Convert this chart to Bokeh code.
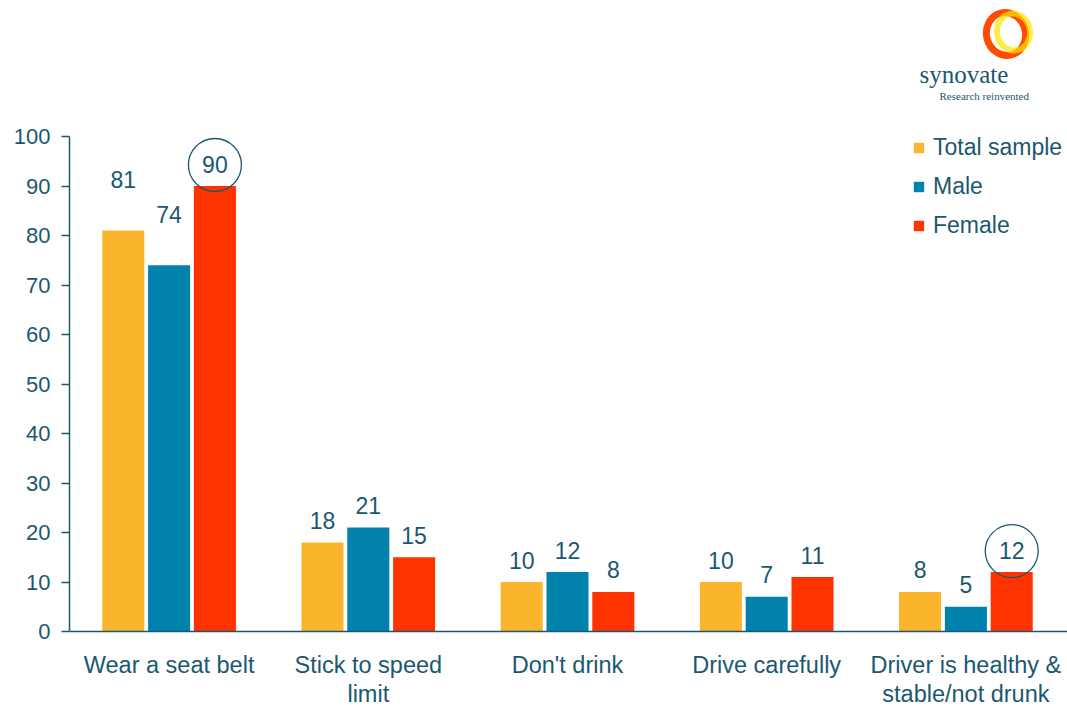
from bokeh.plotting import figure
from bokeh.models import Range1d, FixedTicker, Legend, LegendItem, ColumnDataSource
from bokeh.core.properties import value
from bokeh.transform import dodge
from bokeh.embed import file_html
from bokeh.resources import INLINE

# ---------------- data ----------------
categories = ["Wear a seat belt", "Stick to speed limit", "Don't drink",
              "Drive carefully", "Driver is healthy & stable/not drunk"]
tick_labels = ["Wear a seat belt", "Stick to speed\nlimit", "Don't drink",
               "Drive carefully", "Driver is healthy &\nstable/not drunk"]
series = ["Total sample", "Male", "Female"]
total_sample = [81, 18, 10, 10, 8]
male = [74, 21, 12, 7, 5]
female = [90, 15, 8, 11, 12]
y_ticks = [0, 10, 20, 30, 40, 50, 60, 70, 80, 90, 100]
circled_female = [0, 4]          # category indexes whose Female value is circled

# ---------------- style ----------------
TEAL = "#1B5870"
COLORS = ["#FAB52D", "#0082AD", "#FF3300"]
FONT = "Liberation Sans"
W, H = 1067, 707
LEFT = 69
PX_PER_CAT = 199.2
PX_PER_UNIT = 4.95
ZERO_Y = 631
OFFS = [-0.23, 0.0, 0.23]
BAR_W = 0.211
label_gap_px = {  # distance of value label centre above the bar top (px)
    "Total sample": [51, 22, 22, 22, 22],
    "Male": [51, 22, 22, 22, 22],
    "Female": [22, 22, 22, 22, 22],
}

x_end = (W - LEFT) / PX_PER_CAT
y_start = -(H - ZERO_Y) / PX_PER_UNIT
y_end = ZERO_Y / PX_PER_UNIT


def X(px):
    return (px - LEFT) / PX_PER_CAT


def Y(py):
    return (ZERO_Y - py) / PX_PER_UNIT


p = figure(width=W, height=H, x_range=Range1d(0, x_end), y_range=Range1d(y_start, y_end),
           output_backend="svg", toolbar_location=None,
           min_border_left=LEFT, min_border_right=0, min_border_top=0, min_border_bottom=0)
p.outline_line_color = None
p.grid.visible = False
p.background_fill_color = "white"

centers = [i + 0.5 for i in range(len(categories))]
src = ColumnDataSource(dict(x=centers, total=total_sample, male=male, female=female))

values = [total_sample, male, female]
keys = ["total", "male", "female"]
renderers = []
for s, k, c, off, vals in zip(series, keys, COLORS, OFFS, values):
    r = p.vbar(x=dodge("x", off, range=p.x_range), top=k, width=BAR_W, bottom=0,
               source=src, fill_color=c, line_color=None)
    renderers.append(r)
    lsrc = ColumnDataSource(dict(x=[cx + off for cx in centers], y=vals,
                                 t=[str(v) for v in vals],
                                 yo=[-g for g in label_gap_px[s]]))
    p.text(x="x", y="y", text="t", y_offset="yo", source=lsrc,
           text_font=value(FONT), text_font_size="23px", text_color=TEAL,
           text_align="center", text_baseline="middle")

# circles around highlighted values
for i in circled_female:
    xx = centers[i] + OFFS[2]
    gap = label_gap_px["Female"][i] - 1
    p.ellipse(x=xx, y=female[i] + gap / PX_PER_UNIT, width=53, height=53,
              width_units="screen", height_units="screen",
              fill_color=None, line_color=TEAL, line_width=1.3)

# axes
xa = p.xaxis[0]
xa.fixed_location = 0
xa.ticker = FixedTicker(ticks=centers)
xa.major_label_overrides = {c: t for c, t in zip(centers, tick_labels)}
xa.major_tick_out = 0
xa.major_tick_in = 0
xa.minor_tick_out = 0
xa.minor_tick_in = 0
xa.axis_line_color = TEAL
xa.axis_line_width = 1.5
xa.major_label_text_font = FONT
xa.major_label_text_font_size = "23.5px"
xa.major_label_text_color = TEAL
xa.major_label_standoff = 20
xa.major_label_text_line_height = 1.15

ya = p.yaxis[0]
ya.ticker = FixedTicker(ticks=y_ticks)
ya.bounds = (0, 100)
ya.major_tick_out = 8
ya.major_tick_in = 0
ya.minor_tick_out = 0
ya.minor_tick_in = 0
ya.axis_line_color = TEAL
ya.axis_line_width = 1.5
ya.major_tick_line_color = TEAL
ya.major_tick_line_width = 1.5
ya.major_label_text_font = FONT
ya.major_label_text_font_size = "22px"
ya.major_label_text_color = TEAL
ya.major_label_standoff = 11

# legend
legend = Legend(items=[LegendItem(label=s, renderers=[r]) for s, r in zip(series, renderers)],
                location=(843, 468), orientation="vertical",
                glyph_width=13, glyph_height=13, label_standoff=8,
                label_text_font=FONT, label_text_font_size="23px", label_text_color=TEAL,
                label_height=25, spacing=12, padding=0, margin=0,
                border_line_color=None, background_fill_alpha=0)
p.add_layout(legend, "center")

# logo
p.ellipse(x=X(1005.5), y=Y(33.5), width=39, height=43, width_units="screen", height_units="screen",
          fill_color=None, line_color="#FF4A00", line_width=7, angle=0.25)
p.ellipse(x=X(1013), y=Y(31.5), width=33, height=37, width_units="screen", height_units="screen",
          fill_color=None, line_color="#FFE400", line_width=6, line_alpha=0.7, angle=0.2)
p.text(x=[X(919)], y=[Y(74)], text=["synovate"], text_font=value("Liberation Serif"),
       text_font_size="25px", text_color=TEAL, text_baseline="alphabetic", text_align="left")
p.text(x=[X(939)], y=[Y(95)], text=["Research reinvented"], text_font=value("Liberation Serif"),
       text_font_size="11px", text_color=TEAL, text_baseline="alphabetic", text_align="left")

open("out.html", "w").write(file_html(p, INLINE))
